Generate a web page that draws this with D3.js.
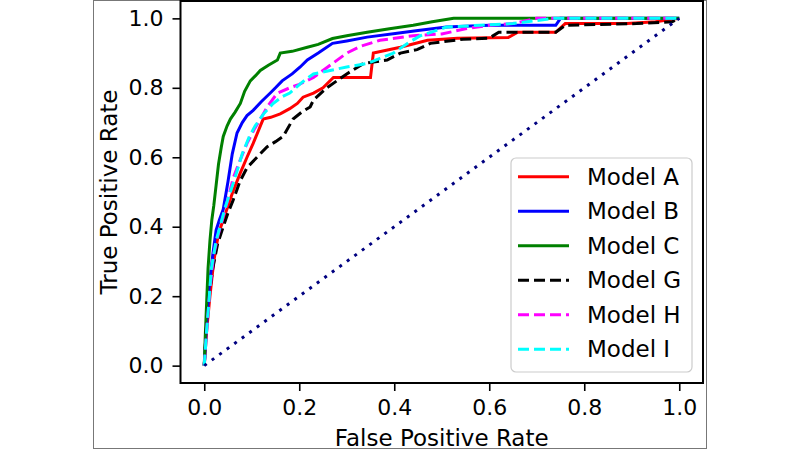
<!DOCTYPE html>
<html><head><meta charset="utf-8">
<script src="https://cdn.jsdelivr.net/npm/d3@7"></script>
<style>body{margin:0;background:#fff}svg{display:block}text{font-family:"DejaVu Sans",sans-serif}</style>
</head><body>
<svg id="c" width="800" height="450"></svg>
<script>
const modelNames = ["Model A","Model B","Model C","Model G","Model H","Model I"];
const fprA = [0,0.005,0.012,0.02,0.03,0.04,0.05,0.06,0.076,0.09,0.103,0.124,0.14,0.16,0.18,0.196,0.208,0.23,0.25,0.272,0.30,0.35,0.356,0.413,0.47,0.533,0.64,0.66,0.74,0.76,0.89,0.95,1.0];
const tprA = [0,0.1,0.2,0.3,0.38,0.42,0.46,0.50,0.555,0.60,0.64,0.71,0.715,0.725,0.74,0.755,0.773,0.785,0.80,0.83,0.83,0.83,0.90,0.917,0.937,0.943,0.945,0.96,0.96,0.985,0.985,0.99,1.0];
const fprB = [0,0.004,0.01,0.018,0.025,0.032,0.04,0.05,0.059,0.069,0.08,0.09,0.103,0.12,0.139,0.15,0.164,0.185,0.202,0.217,0.24,0.27,0.30,0.343,0.406,0.45,0.51,0.6,0.74,0.75,1.0];
const tprB = [0,0.1,0.22,0.32,0.39,0.42,0.45,0.53,0.61,0.67,0.70,0.72,0.735,0.76,0.785,0.80,0.82,0.84,0.86,0.88,0.90,0.928,0.935,0.946,0.957,0.965,0.975,0.98,0.98,1.0,1.0];
const fprC = [0,0.002,0.005,0.008,0.012,0.016,0.02,0.025,0.03,0.036,0.04,0.048,0.055,0.065,0.076,0.085,0.097,0.108,0.118,0.135,0.154,0.16,0.185,0.217,0.24,0.27,0.30,0.343,0.39,0.44,0.48,0.525,1.0];
const tprC = [0,0.08,0.18,0.28,0.36,0.42,0.46,0.52,0.58,0.63,0.66,0.69,0.71,0.73,0.755,0.79,0.82,0.835,0.85,0.865,0.88,0.90,0.905,0.917,0.925,0.942,0.95,0.96,0.97,0.98,0.99,1.0,1.0];
const fprG = [0,0.004,0.01,0.018,0.028,0.04,0.05,0.061,0.075,0.09,0.111,0.132,0.15,0.166,0.187,0.205,0.223,0.23,0.258,0.30,0.335,0.385,0.413,0.448,0.476,0.545,0.6,0.62,0.74,0.76,0.91,0.985,1.0];
const tprG = [0,0.1,0.2,0.28,0.35,0.40,0.44,0.477,0.53,0.57,0.60,0.63,0.645,0.66,0.71,0.73,0.745,0.765,0.80,0.84,0.87,0.88,0.90,0.91,0.928,0.94,0.943,0.96,0.96,0.98,0.985,0.99,1.0];
const fprH = [0,0.005,0.012,0.02,0.03,0.04,0.05,0.061,0.075,0.09,0.105,0.118,0.135,0.154,0.18,0.2,0.23,0.26,0.30,0.33,0.37,0.44,0.5,0.55,0.6,0.65,0.70,1.0];
const tprH = [0,0.1,0.22,0.32,0.38,0.43,0.48,0.54,0.59,0.64,0.68,0.71,0.75,0.785,0.80,0.81,0.83,0.86,0.90,0.92,0.937,0.95,0.955,0.97,0.98,0.985,1.0,1.0];
const fprI = [0,0.005,0.015,0.025,0.035,0.045,0.055,0.069,0.08,0.095,0.107,0.125,0.145,0.165,0.18,0.205,0.23,0.265,0.30,0.343,0.37,0.398,0.43,0.455,0.51,0.58,0.65,0.735,1.0];
const tprI = [0,0.1,0.28,0.36,0.41,0.46,0.50,0.56,0.61,0.66,0.69,0.725,0.755,0.775,0.785,0.815,0.84,0.85,0.86,0.87,0.885,0.90,0.93,0.95,0.975,0.98,0.985,1.0,1.0];
const chanceFpr = [0,1];
const chanceTpr = [0,1];
const tickValues = [0,0.2,0.4,0.6,0.8,1.0];

const series = [
  {name:modelNames[0], x:fprA, y:tprA, color:"#ff0000", dash:null},
  {name:modelNames[1], x:fprB, y:tprB, color:"#0000ff", dash:null},
  {name:modelNames[2], x:fprC, y:tprC, color:"#008000", dash:null},
  {name:modelNames[3], x:fprG, y:tprG, color:"#000000", dash:"11,5"},
  {name:modelNames[4], x:fprH, y:tprH, color:"#ff00ff", dash:"11,5"},
  {name:modelNames[5], x:fprI, y:tprI, color:"#00ffff", dash:"11,5"}
];

const svg = d3.select("#c");
const L = 180.5, R = 703, T = 1, B = 383;
const x = d3.scaleLinear().domain([-0.05,1.05]).range([L,R]);
const y = d3.scaleLinear().domain([-0.05,1.05]).range([B,T]);

// outer image border
svg.append("rect").attr("x",93.5).attr("y",0.5).attr("width",613).attr("height",448)
  .attr("fill","#fff").attr("stroke","#777").attr("stroke-width",1);

const line = d3.line().x(d=>x(d[0])).y(d=>y(d[1]));
const g = svg.append("g");
series.forEach(s=>{
  const pts = s.x.map((v,i)=>[v,s.y[i]]);
  g.append("path").attr("d",line(pts)).attr("fill","none")
    .attr("stroke",s.color).attr("stroke-width",3)
    .attr("stroke-dasharray",s.dash).attr("stroke-linejoin","miter");
});
g.append("path").attr("d",line(chanceFpr.map((v,i)=>[v,chanceTpr[i]])))
  .attr("fill","none").attr("stroke","#000080").attr("stroke-width",3)
  .attr("stroke-dasharray","3,6.3");

// axes
const fmt = d3.format(".1f");
const xAxis = svg.append("g").attr("transform",`translate(0,${B})`)
  .call(d3.axisBottom(x).tickValues(tickValues).tickFormat(fmt).tickSize(8).tickPadding(8));
const yAxis = svg.append("g").attr("transform",`translate(${L},0)`)
  .call(d3.axisLeft(y).tickValues(tickValues).tickFormat(fmt).tickSize(8).tickPadding(9));
[xAxis,yAxis].forEach(a=>{
  a.select(".domain").remove();
  a.selectAll(".tick line").attr("stroke","#000").attr("stroke-width",1.6);
  a.selectAll("text").attr("fill","#000").attr("font-size",22)
   .attr("font-family","DejaVu Sans");
});
svg.append("rect").attr("x",L).attr("y",T).attr("width",R-L).attr("height",B-T)
  .attr("fill","none").attr("stroke","#000").attr("stroke-width",2);

svg.append("text").attr("x",(L+R)/2).attr("y",446).attr("text-anchor","middle")
  .attr("font-size",23).text("False Positive Rate");
svg.append("text").attr("transform",`translate(117,${(T+B)/2}) rotate(-90)`)
  .attr("text-anchor","middle").attr("font-size",23).text("True Positive Rate");

// legend
const lg = svg.append("g");
lg.append("rect").attr("x",511).attr("y",158).attr("width",181).attr("height",214)
  .attr("rx",5).attr("fill","rgba(255,255,255,0.85)").attr("stroke","#ccc").attr("stroke-width",1.2);
series.forEach((s,i)=>{
  const yy = 176.7 + i*34.5;
  lg.append("line").attr("x1",518).attr("x2",569).attr("y1",yy).attr("y2",yy)
    .attr("stroke",s.color).attr("stroke-width",3).attr("stroke-dasharray",s.dash);
  lg.append("text").attr("x",587).attr("y",yy).attr("dy","0.36em")
    .attr("font-size",23).text(s.name);
});
</script>
</body></html>
